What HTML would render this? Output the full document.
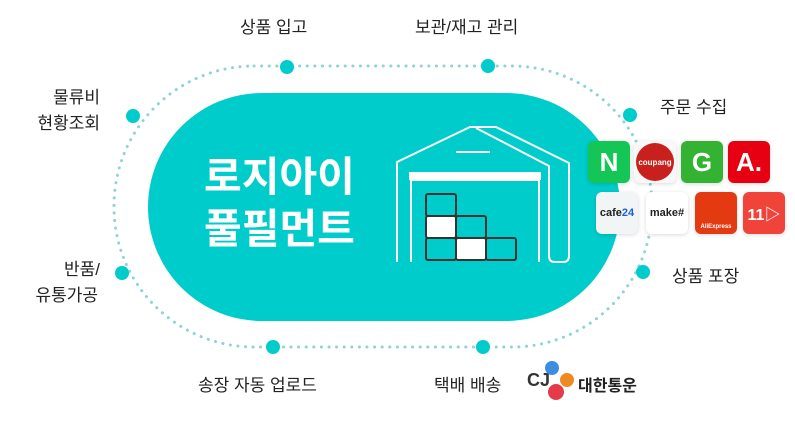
<!DOCTYPE html>
<html><head><meta charset="utf-8"><style>
body{margin:0;width:795px;height:424px;background:#fff;overflow:hidden;font-family:"Liberation Sans","Noto Sans CJK KR",sans-serif}
svg{position:absolute;left:0;top:0}
.t{position:absolute;font-size:17px;color:#222;line-height:24px}
.ic{position:absolute;width:42px;height:42px;border-radius:6px;box-shadow:0 1px 4px rgba(0,0,0,.15);display:flex;align-items:center;justify-content:center;font-weight:bold;color:#fff}
</style></head><body>
<svg width="795" height="424">
<rect x="114" y="66" width="538" height="281" rx="140" fill="none" stroke="#8fd3d3" stroke-width="3" stroke-dasharray="0.1 7.5" stroke-linecap="round"/>
<rect x="148" y="93" width="472" height="228" rx="114" fill="#00cccb"/>
<g fill="#00cccb">
<circle cx="287" cy="67" r="7"/><circle cx="488" cy="66" r="7"/><circle cx="630" cy="115" r="7"/><circle cx="643" cy="272" r="7"/><circle cx="483" cy="347" r="7"/><circle cx="273" cy="347" r="7"/><circle cx="122" cy="273" r="7"/><circle cx="133" cy="116" r="7"/>
</g>
<g fill="none" stroke="#fff" stroke-width="2" stroke-linejoin="round">
<path d="M397 262V162l73-35h26l73 36v93q0 6-6 6h-8q-6 0-6-6V166l-73-38"/>
<line x1="456" y1="152" x2="490" y2="152"/>
<path d="M411 262V180h128v82"/>
</g>
<rect x="409" y="172" width="132" height="8" fill="#fff"/>
<g stroke="#333" stroke-width="2">
<rect x="426" y="194" width="30" height="22" fill="#00cccb" rx="2"/>
<rect x="426" y="216" width="30" height="22" fill="#fff" rx="2"/>
<rect x="456" y="216" width="30" height="22" fill="#00cccb" rx="2"/>
<rect x="426" y="238" width="30" height="22" fill="#00cccb" rx="2"/>
<rect x="456" y="238" width="30" height="22" fill="#fff" rx="2"/>
<rect x="486" y="238" width="30" height="22" fill="#00cccb" rx="2"/>
</g>
</svg>
<div style="position:absolute;left:204px;top:151px;color:#fff;font-size:41px;font-weight:bold;line-height:52px">로지아이<br>풀필먼트</div>
<div class="t" style="left:240px;top:16px">상품 입고</div>
<div class="t" style="left:415px;top:16px">보관/재고 관리</div>
<div class="t" style="left:660px;top:96px">주문 수집</div>
<div class="t" style="left:672px;top:265px">상품 포장</div>
<div class="t" style="left:40px;top:86px;text-align:right;width:60px">물류비</div>
<div class="t" style="left:20px;top:112px;text-align:right;width:80px">현황조회</div>
<div class="t" style="left:40px;top:258px;text-align:right;width:60px">반품/</div>
<div class="t" style="left:10px;top:284px;text-align:right;width:88px">유통가공</div>
<div class="t" style="left:198px;top:374px">송장 자동 업로드</div>
<div class="t" style="left:434px;top:374px">택배 배송</div>
<div style="position:absolute;left:527px;top:370px;font-size:18px;font-weight:bold;color:#333">CJ</div>
<svg width="795" height="424"><circle cx="552" cy="368" r="7" fill="#3b8ee0"/><circle cx="567" cy="380" r="7" fill="#ef8a23"/><circle cx="556" cy="392" r="8" fill="#e53a4a"/></svg>
<div style="position:absolute;left:578px;top:372px;font-size:16px;font-weight:bold;color:#222">대한통운</div>
<div class="ic" style="left:588px;top:141px;background:#14c655;font-size:26px">N</div>
<div class="ic" style="left:634px;top:141px;background:#f8f8f8"><div style="width:38px;height:38px;border-radius:50%;background:#c8201c;font-size:8px;display:flex;align-items:center;justify-content:center">coupang</div></div>
<div class="ic" style="left:681px;top:141px;background:#34b232;font-size:26px">G</div>
<div class="ic" style="left:728px;top:141px;background:#e60012;font-size:26px">A.</div>
<div class="ic" style="left:596px;top:192px;background:#f1f5f5;color:#222;font-size:11px;line-height:11px;text-align:center">cafe<br><span style="color:#1b5fe0">24</span></div>
<div class="ic" style="left:646px;top:192px;background:#fff;color:#222;font-size:11px">make#</div>
<div class="ic" style="left:695px;top:192px;background:#e43a12;font-size:6px;align-items:flex-end;padding-bottom:4px;box-sizing:border-box">AliExpress</div>
<div class="ic" style="left:743px;top:192px;background:#f0443a;font-size:16px">11▷</div>
</body></html>
